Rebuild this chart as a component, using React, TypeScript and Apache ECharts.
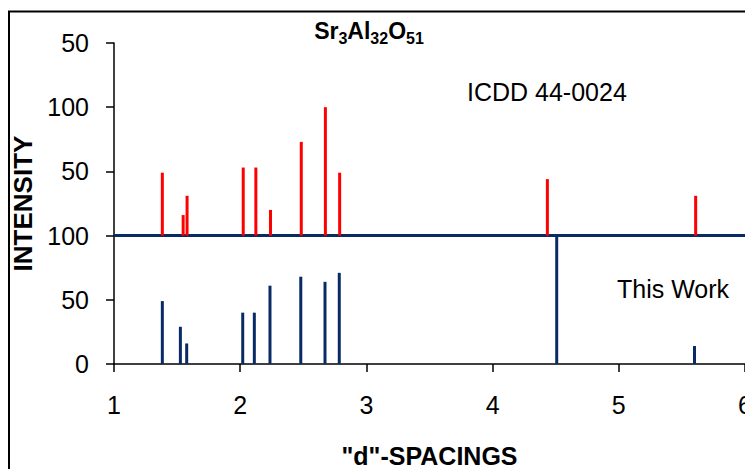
import React, { useEffect, useRef } from "react";
import * as echarts from "echarts";

const icddD = [1.383, 1.548, 1.579, 2.024, 2.124, 2.24, 2.484, 2.675, 2.788, 4.434, 5.609];
const icddI = [49, 16, 31, 53, 53, 20, 73, 100, 49, 44, 31];
const workD = [1.383, 1.526, 1.576, 2.02, 2.112, 2.236, 2.48, 2.672, 2.785, 4.508, 5.6];
const workI = [49, 29, 16, 40, 40, 61, 68, 64, 71, 100, 14];
const ICDD_BASE = 100;
const yTickLabels = ["0", "50", "100", "50", "100", "50"];
const xTickLabels = ["1", "2", "3", "4", "5", "6"];

const FONT = "'Liberation Sans', Arial, sans-serif";
const RED = "#ff0000";
const NAVY = "#0a2a66";

export default function App() {
  const ref = useRef<HTMLDivElement>(null);
  useEffect(() => {
    if (!ref.current) return;
    const chart = echarts.init(ref.current, null, { renderer: "svg" });
    const stick = (color: string) => (params: any, api: any) => {
      const x = api.value(0);
      const p0 = api.coord([x, api.value(1)]);
      const p1 = api.coord([x, api.value(2)]);
      return {
        type: "line",
        shape: { x1: p0[0], y1: p0[1], x2: p1[0], y2: p1[1] },
        style: { stroke: color, lineWidth: 3 },
      };
    };
    chart.setOption({
      animation: false,
      backgroundColor: "#ffffff",
      grid: { left: 114, right: 0, top: 43, bottom: 105, containLabel: false, outerBoundsMode: "none" },
      xAxis: {
        type: "value",
        min: 1,
        max: 6,
        interval: 1,
        name: '"d"-SPACINGS',
        nameLocation: "middle",
        nameGap: 79,
        nameTextStyle: { fontFamily: FONT, fontSize: 25, fontWeight: "bold", color: "#000" },
        axisLine: { show: true, onZero: false, lineStyle: { color: "#000", width: 1.5 } },
        axisTick: { show: true, length: 8, lineStyle: { color: "#000", width: 1.5 } },
        axisLabel: {
          fontFamily: FONT,
          fontSize: 25,
          color: "#000",
          margin: 28,
          formatter: (v: number) => xTickLabels[Math.round(v) - 1] ?? "",
        },
        splitLine: { show: false },
      },
      yAxis: {
        type: "value",
        min: 0,
        max: 250,
        interval: 50,
        name: "INTENSITY",
        nameLocation: "middle",
        nameGap: 77,
        nameRotate: 90,
        nameTextStyle: { fontFamily: FONT, fontSize: 26, fontWeight: "bold", color: "#000" },
        axisLine: { show: true, lineStyle: { color: "#000", width: 1.5 } },
        axisTick: { show: true, length: 8, lineStyle: { color: "#000", width: 1.5 } },
        axisLabel: {
          fontFamily: FONT,
          fontSize: 25,
          color: "#000",
          margin: 25,
          formatter: (v: number) => yTickLabels[Math.round(v / 50)] ?? "",
        },
        splitLine: { show: false },
      },
      series: [
        {
          type: "line",
          data: [
            [1, ICDD_BASE],
            [6, ICDD_BASE],
          ],
          symbol: "none",
          lineStyle: { color: NAVY, width: 3 },
          z: 2,
        },
        {
          type: "custom",
          renderItem: stick(NAVY),
          encode: { x: 0, y: [1, 2] },
          data: workD.map((d, i) => [d, 0, workI[i]]),
          z: 3,
        },
        {
          type: "custom",
          renderItem: stick(RED),
          encode: { x: 0, y: [1, 2] },
          data: icddD.map((d, i) => [d, ICDD_BASE, ICDD_BASE + icddI[i]]),
          z: 4,
        },
      ],
      graphic: [
        {
          type: "rect",
          shape: { x: 9, y: 11.5, width: 800, height: 600 },
          style: { fill: "none", stroke: "#000", lineWidth: 2 },
          silent: true,
        },
        {
          type: "text",
          x: 369,
          y: 31,
          style: {
            text: "{m|Sr}{s|3}{m|Al}{s|32}{m|O}{s|51}",
            align: "center",
            verticalAlign: "middle",
            rich: {
              m: { fontFamily: FONT, fontSize: 23, fontWeight: "bold", fill: "#000" },
              s: { fontFamily: FONT, fontSize: 16, fontWeight: "bold", fill: "#000", padding: [14, 0, 0, 0] },
            },
          },
        },
        {
          type: "text",
          x: 467,
          y: 92,
          style: {
            text: "ICDD 44-0024",
            fontFamily: FONT,
            fontSize: 25,
            fill: "#000",
            verticalAlign: "middle",
          },
        },
        {
          type: "text",
          x: 617,
          y: 289,
          style: {
            text: "This Work",
            fontFamily: FONT,
            fontSize: 25,
            fill: "#000",
            verticalAlign: "middle",
          },
        },
      ],
    });
    return () => chart.dispose();
  }, []);
  return (
    <div
      ref={ref}
      style={{ position: "fixed", left: 0, top: 0, width: 745, height: 469, background: "#fff" }}
    />
  );
}
